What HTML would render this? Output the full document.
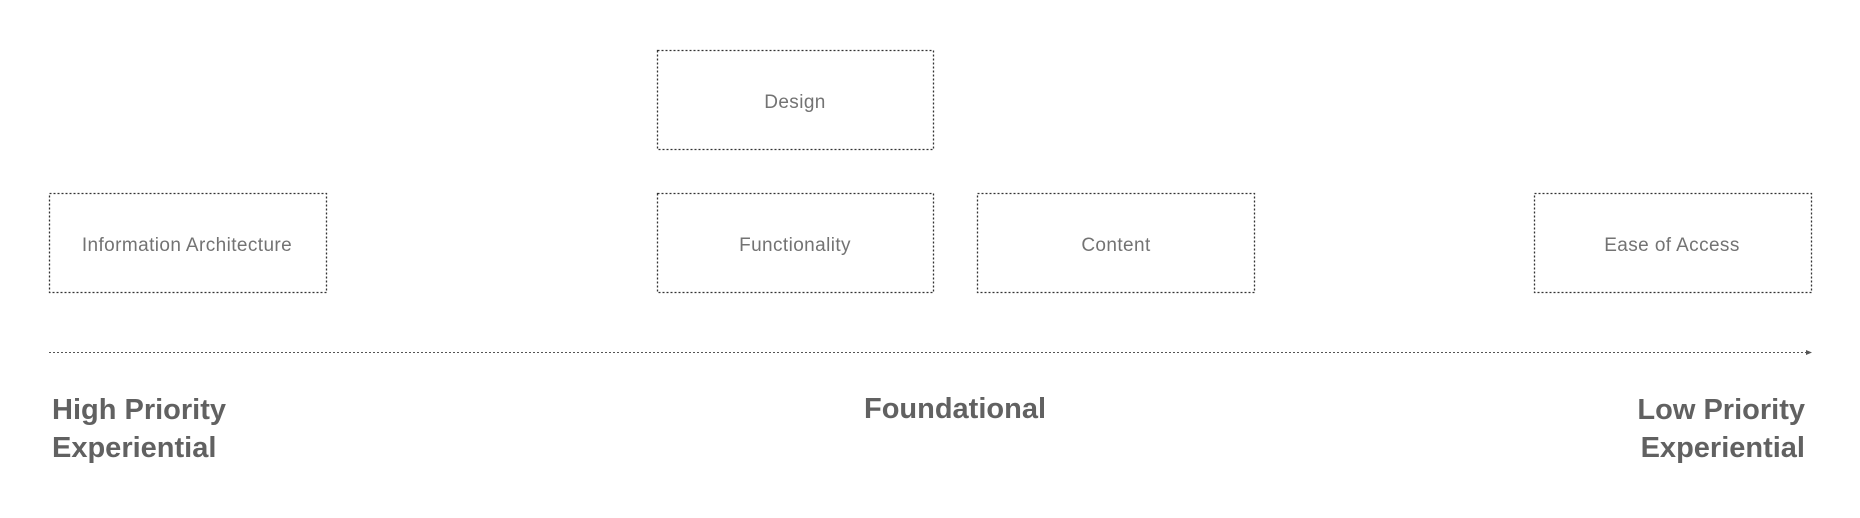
<!DOCTYPE html>
<html><head><meta charset="utf-8"><style>
html,body{margin:0;padding:0;background:#fff;}
svg{display:block;}
</style></head><body>
<svg width="1860" height="518" viewBox="0 0 1860 518" xmlns="http://www.w3.org/2000/svg">
<g fill="none" stroke="#333" stroke-width="1.3" stroke-dasharray="2,2">
<rect x="657.5" y="50.5" width="276" height="99"/>
<rect x="49.5" y="193.5" width="277" height="99"/>
<rect x="657.5" y="193.5" width="276" height="99"/>
<rect x="977.5" y="193.5" width="277" height="99"/>
<rect x="1534.5" y="193.5" width="277" height="99"/>
<line x1="49" y1="352.5" x2="1806" y2="352.5" stroke="#555" stroke-width="1"/>
</g>
<polygon points="1806,350 1812,352.5 1806,355" fill="#555"/>
<g font-family="Liberation Sans, sans-serif" font-size="19" fill="#737373" text-anchor="middle" letter-spacing="0.4">
<text x="795" y="108">Design</text>
<text x="187" y="251">Information Architecture</text>
<text x="795" y="251">Functionality</text>
<text x="1116" y="251">Content</text>
<text x="1672" y="251">Ease of Access</text>
</g>
<g font-family="Liberation Sans, sans-serif" font-size="29" font-weight="bold" fill="#616161">
<text x="52" y="419">High Priority</text>
<text x="52" y="457">Experiential</text>
<text x="955" y="418" text-anchor="middle">Foundational</text>
<text x="1805" y="419" text-anchor="end">Low Priority</text>
<text x="1805" y="457" text-anchor="end">Experiential</text>
</g>
</svg>
</body></html>
